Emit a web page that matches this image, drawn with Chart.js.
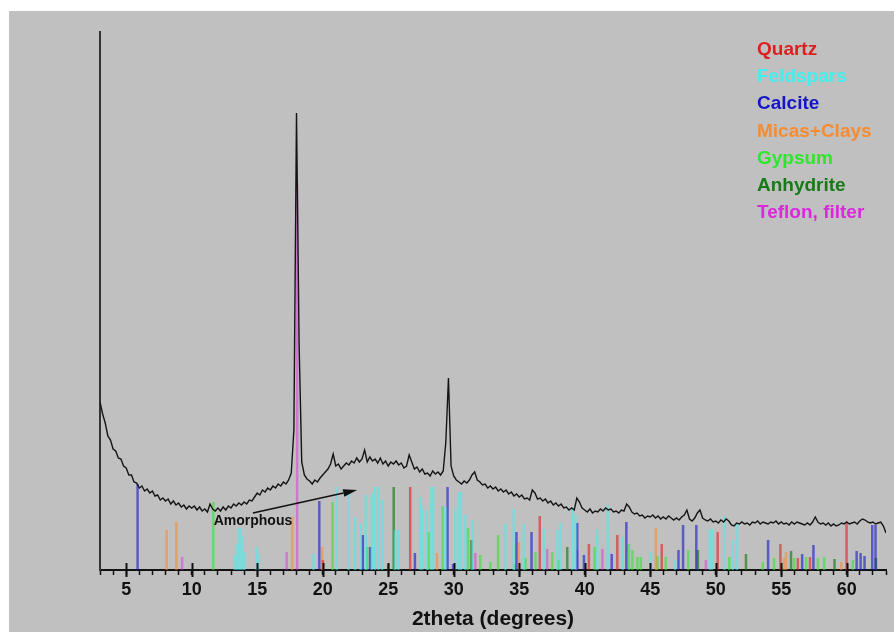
<!DOCTYPE html>
<html>
<head>
<meta charset="utf-8">
<script src="https://cdn.jsdelivr.net/npm/chart.js@4/dist/chart.umd.min.js"></script>
<style>
  body { margin: 0; background: #ffffff; }
  #xrd { display: block; }
</style>
</head>
<body>
<canvas id="xrd" width="894" height="632"></canvas>
<script>
// measured pattern: step scan from 3 to 63 deg, 0.2 deg step
const patternStart = 3;
const patternStep = 0.2;
const patternCounts = [
  168, 156, 147, 134, 130,   // 3
  121, 119, 112, 111, 104,   // 4
  102, 95, 95, 88, 87,       // 5
  82, 84, 79, 81, 77,        // 6
  79, 74, 75, 70, 72,        // 7
  69, 71, 66, 69, 65,        // 8
  67, 63, 65, 61, 64,        // 9
  62, 64, 60, 63, 59,        // 10
  61, 58, 66, 61, 59,        // 11
  62, 59, 63, 60, 64,        // 12
  62, 66, 64, 67, 65,        // 13
  68, 66, 70, 69, 73,        // 14
  77, 75, 80, 78, 82,        // 15
  80, 84, 82, 86, 84,        // 16
  88, 86, 90, 97, 140,       // 17
  457, 225, 108, 95, 91,     // 18
  89, 86, 90, 88, 92,        // 19
  95, 98, 101, 106, 116,     // 20
  104, 106, 101, 104, 107,   // 21
  105, 109, 107, 112, 108,   // 22
  111, 120, 108, 113, 109,   // 23
  111, 107, 112, 106, 109,   // 24
  104, 108, 106, 109, 105,   // 25
  107, 102, 104, 115, 108,   // 26
  101, 103, 98, 101, 96,     // 27
  97, 94, 99, 96, 98,        // 28
  95, 99, 128, 192, 104,     // 29
  94, 90, 88, 86, 89,        // 30
  87, 90, 95, 98, 90,        // 31
  88, 85, 86, 82, 84,        // 32
  81, 83, 79, 81, 78,        // 33
  80, 76, 78, 74, 76,        // 34
  73, 75, 71, 72, 70,        // 35
  80, 77, 71, 72, 69,        // 36
  71, 67, 69, 65, 67,        // 37
  64, 66, 62, 63, 60,        // 38
  62, 60, 72, 68, 62,        // 39
  60, 58, 61, 57, 59,        // 40
  58, 61, 59, 62, 60,        // 41
  61, 58, 59, 57, 60,        // 42
  59, 66, 63, 58, 56,        // 43
  57, 54, 55, 52, 54,        // 44
  53, 55, 52, 54, 51,        // 45
  53, 51, 54, 52, 50,        // 46
  52, 50, 53, 55, 60,        // 47
  51, 49, 52, 57, 60,        // 48
  52, 50, 49, 51, 48,        // 49
  49, 47, 50, 48, 51,        // 50
  49, 45, 44, 47, 46,        // 51
  48, 46, 47, 45, 48,        // 52
  47, 49, 46, 48, 47,        // 53
  46, 48, 47, 49, 46,        // 54
  48, 46, 47, 45, 48,        // 55
  46, 48, 47, 46, 45,        // 56
  47, 45, 48, 53, 48,        // 57
  46, 47, 45, 47, 44,        // 58
  46, 44, 45, 47, 46,        // 59
  48, 46, 47, 48, 46,        // 60
  49, 51, 50, 48, 47,        // 61
  48, 46, 47, 48, 44,        // 62
  37                         // 63
];

// reference stick patterns [2theta, relative height]
const quartzLines = [
  [20.02, 10], [26.68, 83], [36.57, 54], [40.32, 26], [42.49, 35], [45.88, 26],
  [50.15, 38], [54.94, 26], [56.27, 12], [57.2, 13], [59.99, 48]
];
const feldsparLines = [
  [13.29, 15], [13.45, 26], [13.6, 42], [13.75, 42], [13.9, 34], [14.02, 18],
  [14.95, 23], [15.08, 17], [19.3, 16], [21.07, 83], [21.97, 80], [22.47, 53],
  [22.9, 47], [23.27, 75], [23.75, 77], [24.0, 83], [24.25, 83], [24.54, 70],
  [25.53, 40], [25.78, 40], [27.45, 73], [27.6, 63], [27.95, 60], [28.29, 83],
  [28.44, 83], [29.36, 63], [30.12, 61], [30.4, 78], [30.55, 78], [30.89, 55],
  [31.45, 50], [33.95, 46], [34.58, 61], [35.35, 46], [36.88, 41], [37.9, 40],
  [38.16, 47], [39.05, 63], [39.3, 55], [40.96, 41], [41.75, 65], [42.9, 33],
  [45.05, 18], [46.9, 10], [49.55, 41], [49.7, 41], [50.67, 54], [51.3, 30],
  [51.62, 46]
];
const calciteLines = [
  [5.87, 86], [19.74, 69], [23.06, 35], [23.62, 23], [27.04, 17], [29.53, 83],
  [29.95, 6], [34.79, 38], [35.94, 38], [39.43, 47], [39.94, 15], [42.06, 16],
  [43.18, 48], [47.16, 20], [47.51, 45], [48.52, 45], [54.0, 30], [56.6, 16],
  [57.46, 25], [60.76, 19], [61.06, 17], [61.36, 14], [61.95, 45], [62.2, 45]
];
const micaClayLines = [
  [8.09, 40], [8.83, 48], [17.68, 53], [19.95, 23], [28.72, 17], [34.97, 28],
  [45.43, 42], [55.2, 12], [55.37, 18], [59.58, 8]
];
const gypsumLines = [
  [11.65, 68], [20.75, 68], [23.39, 23], [28.08, 38], [29.15, 64], [31.09, 42],
  [32.03, 15], [32.8, 8], [33.39, 35], [34.65, 6], [35.48, 12], [36.24, 18],
  [37.52, 18], [38.0, 10], [40.76, 23], [43.38, 26], [43.64, 20], [44.02, 13],
  [44.28, 13], [45.55, 14], [46.19, 13], [47.9, 20], [51.04, 13], [53.59, 8],
  [54.45, 12], [56.0, 12], [56.9, 13], [57.8, 12], [58.28, 13], [60.47, 10]
];
const anhydriteLines = [
  [25.0, 6], [25.42, 83], [31.35, 30], [38.67, 23], [48.64, 20], [52.31, 16],
  [55.75, 19], [59.07, 11], [62.23, 12]
];
const teflonLines = [
  [9.27, 13], [17.25, 18], [18.05, 387], [31.65, 17], [37.14, 21], [39.43, 20],
  [41.35, 21], [49.25, 10]
];

const phaseNames = ["Quartz", "Feldspars", "Calcite", "Micas+Clays", "Gypsum", "Anhydrite", "Teflon, filter"];
const phaseLines = [quartzLines, feldsparLines, calciteLines, micaClayLines, gypsumLines, anhydriteLines, teflonLines];
const phaseColors = ["#dd1f1f", "#44eeee", "#1515c8", "#f58c32", "#2ee62e", "#167a16", "#dc28dc"];
const phaseAlpha = [0.6, 0.55, 0.6, 0.6, 0.6, 0.65, 0.45];

function withAlpha(hex, a) {
  const r = parseInt(hex.slice(1, 3), 16);
  const g = parseInt(hex.slice(3, 5), 16);
  const b = parseInt(hex.slice(5, 7), 16);
  return `rgba(${r}, ${g}, ${b}, ${a})`;
}

// each stick is a vertical segment, null breaks the line between sticks
function stickData(lines) {
  return lines.flatMap(([t, h]) => [{ x: t, y: 0 }, { x: t, y: h }, { x: t, y: null }]);
}

const FONT = "'Liberation Sans', Arial, sans-serif";

// grey panel behind everything
const backgroundPlugin = {
  id: "backgroundPlugin",
  beforeDraw: (chart) => {
    const ctx = chart.ctx;
    ctx.save();
    ctx.fillStyle = "#ffffff";
    ctx.fillRect(0, 0, chart.width, chart.height);
    ctx.fillStyle = "#c0c0c0";
    ctx.fillRect(9, 11, chart.width - 9, chart.height - 11);
    ctx.restore();
  },
};

// major ticks cross the axis, legend as coloured words, amorphous arrow
const decorPlugin = {
  id: "decorPlugin",
  afterDraw: (chart) => {
    const ctx = chart.ctx;
    const xs = chart.scales.x;
    const ys = chart.scales.y;
    const base = chart.chartArea.bottom;
    ctx.save();

    ctx.strokeStyle = "#111";
    ctx.lineWidth = 2;
    for (let v = 5; v <= 60; v += 5) {
      const x = Math.round(xs.getPixelForValue(v)) + 0.5;
      ctx.beginPath();
      ctx.moveTo(x, base - 7);
      ctx.lineTo(x, base + 7);
      ctx.stroke();
    }

    ctx.font = `bold 19px ${FONT}`;
    ctx.textAlign = "left";
    ctx.textBaseline = "alphabetic";
    phaseNames.forEach((name, i) => {
      ctx.fillStyle = phaseColors[i];
      ctx.fillText(name, 757, 55 + i * 27.2);
    });

    const x0 = xs.getPixelForValue(14.67), y0 = ys.getPixelForValue(57);
    const x1 = xs.getPixelForValue(22.63), y1 = ys.getPixelForValue(80);
    const ang = Math.atan2(y1 - y0, x1 - x0);
    const headLen = 14, headHalf = 3.8;
    const bx = x1 - headLen * Math.cos(ang), by = y1 - headLen * Math.sin(ang);
    ctx.strokeStyle = "#111";
    ctx.lineWidth = 1.5;
    ctx.beginPath();
    ctx.moveTo(x0, y0);
    ctx.lineTo(bx, by);
    ctx.stroke();
    ctx.fillStyle = "#111";
    ctx.beginPath();
    ctx.moveTo(x1, y1);
    ctx.lineTo(bx + headHalf * Math.sin(ang), by - headHalf * Math.cos(ang));
    ctx.lineTo(bx - headHalf * Math.sin(ang), by + headHalf * Math.cos(ang));
    ctx.closePath();
    ctx.fill();

    ctx.font = `bold 14px ${FONT}`;
    ctx.fillStyle = "#111";
    ctx.fillText("Amorphous", xs.getPixelForValue(11.68), ys.getPixelForValue(45.5));
    ctx.restore();
  },
};

const datasets = [
  {
    data: patternCounts.map((c, i) => ({ x: patternStart + i * patternStep, y: c })),
    borderColor: "#151515",
    borderWidth: 1.4,
    pointRadius: 0,
    tension: 0,
  },
];
phaseLines.forEach((lines, i) => {
  datasets.push({
    data: stickData(lines),
    borderColor: withAlpha(phaseColors[i], phaseAlpha[i]),
    borderWidth: 2.5,
    pointRadius: 0,
    spanGaps: false,
    tension: 0,
  });
});

new Chart(document.getElementById("xrd"), {
  type: "line",
  data: { datasets: datasets },
  options: {
    responsive: false,
    animation: false,
    layout: { padding: { left: 0, top: 32, right: 8, bottom: 0 } },
    scales: {
      x: {
        type: "linear",
        min: 3,
        max: 63,
        afterFit: (s) => { s.height = 62; s.paddingLeft = 0; s.paddingRight = 0; },
        ticks: {
          stepSize: 1,
          autoSkip: false,
          maxRotation: 0,
          padding: 4,
          color: "#111",
          font: { family: FONT, size: 18, weight: "bold" },
          callback: (v) => (v % 5 === 0 ? v : ""),
        },
        grid: {
          display: true,
          drawOnChartArea: false,
          drawTicks: true,
          tickLength: 5,
          tickWidth: 1.5,
          tickColor: "#111",
        },
        border: { display: true, color: "#111", width: 2 },
        title: {
          display: true,
          text: "2theta (degrees)",
          color: "#111",
          font: { family: FONT, size: 21, weight: "bold" },
          padding: { top: 0, bottom: 0 },
        },
      },
      y: {
        min: 0,
        max: 538,
        afterFit: (s) => { s.width = 100; },
        ticks: { display: false },
        grid: { display: false },
        border: { display: true, color: "#333", width: 2 },
      },
    },
    plugins: {
      legend: { display: false },
      tooltip: { enabled: false },
    },
  },
  plugins: [backgroundPlugin, decorPlugin],
});
</script>
</body>
</html>
